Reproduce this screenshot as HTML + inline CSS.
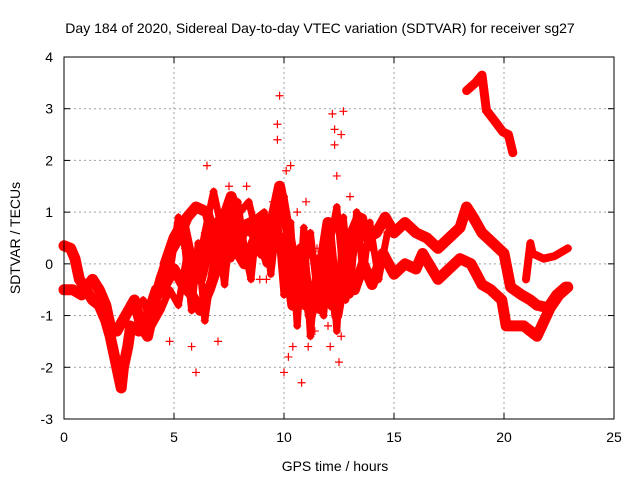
<!DOCTYPE html>
<html><head><meta charset="utf-8"><style>
body{margin:0;background:#fff}
svg text{font-family:"Liberation Sans",sans-serif;font-size:14px;fill:#000}
</style></head><body>
<svg id="c" width="640" height="480" xmlns="http://www.w3.org/2000/svg">
<rect width="640" height="480" fill="#fff"/>
<text x="320" y="33" text-anchor="middle">Day 184 of 2020, Sidereal Day-to-day VTEC variation (SDTVAR) for receiver sg27</text>
<text x="335" y="471" text-anchor="middle">GPS time / hours</text>
<text transform="translate(20,238) rotate(-90)" text-anchor="middle">SDTVAR / TECUs</text>
<g id="grid"></g><g id="marks"></g><g id="axes"></g>
</svg>
<script>
const xTicks=[0,5,10,15,20,25];
const yTicks=[-3,-2,-1,0,1,2,3,4];
const traceA=[[0,0.35],[0.3,0.3],[0.5,0.1],[0.7,-0.3],[1.0,-0.5],[1.3,-0.7],[1.6,-0.8],[1.9,-1.1],[2.1,-1.4],[2.3,-1.8],[2.5,-2.2],[2.6,-2.4],[2.7,-2.0],[2.9,-1.6],[3.0,-1.3]];
const traceB=[[0,-0.5],[0.4,-0.5],[0.8,-0.6],[1.1,-0.4],[1.3,-0.3],[1.6,-0.5],[1.9,-0.8],[2.1,-1.2],[2.4,-1.3],[2.8,-1.0],[3.2,-0.7],[3.5,-1.2],[3.8,-1.4],[4.1,-0.8],[4.4,-0.3],[4.8,0.2],[5.2,0.5],[5.6,0.9],[6.0,1.1],[6.5,1.0],[6.8,0.5],[7.2,0.8],[7.6,1.3],[8.0,0.7],[8.5,0.8],[9.0,0.5],[9.5,0.6],[10.0,0.2]];
const traceC=[[3.0,-1.2],[3.4,-1.3],[3.8,-1.0],[4.2,-0.5],[4.6,-0.4],[5.0,-0.1],[5.4,-0.4],[5.8,-0.6],[6.2,-0.9],[6.6,-0.5],[7.0,0.0],[7.4,0.4],[7.8,0.3],[8.2,0.0],[8.6,0.4],[9.0,0.8],[9.4,0.4],[9.8,0.5],[10.2,0.0]];
const traceD=[[4.6,0.0],[5.0,0.5],[5.4,0.8],[5.8,0.0],[6.2,-0.3],[6.6,0.4],[7.0,0.8],[7.4,1.0],[7.8,0.2],[8.2,0.7],[8.6,0.6],[9.0,0.2],[9.4,0.7],[9.8,1.5],[10.2,0.6],[10.6,-0.3],[11.0,-0.8],[11.4,-0.5],[11.8,0.0],[12.2,-0.8],[12.6,-0.2],[13.0,0.5],[13.4,0.9],[13.8,0.5],[14.2,0.6],[14.6,0.9],[15.0,0.6],[15.5,0.8],[16.0,0.6],[16.5,0.5],[17.0,0.3],[17.5,0.5],[18.0,0.7],[18.3,1.1],[18.6,0.9],[19.0,0.6],[19.5,0.4],[20.0,0.2],[20.3,-0.45],[20.8,-0.6],[21.2,-0.7],[21.5,-0.8],[22.0,-0.85],[22.4,-0.6],[22.8,-0.45]];
const traceE=[[10.0,0.5],[10.4,-0.8],[10.8,0.3],[11.2,-1.0],[11.6,-0.3],[12.0,0.8],[12.4,-1.0],[12.8,0.0],[13.2,-0.5],[13.6,0.0],[14.0,-0.4],[14.5,0.2],[15.0,-0.2],[15.5,0.0],[16.0,-0.1],[16.3,0.2],[17.0,-0.3],[17.5,-0.1],[18.0,0.1],[18.5,0.0],[19.0,-0.4],[19.4,-0.5],[19.9,-0.7],[20.1,-1.2],[20.5,-1.2],[20.9,-1.2],[21.5,-1.4],[22.1,-0.85],[22.5,-0.6],[22.9,-0.45]];
const traceF=[[18.3,3.35],[18.7,3.5],[19.0,3.65],[19.2,2.97],[19.6,2.75],[19.95,2.55],[20.2,2.5],[20.4,2.15]];
const traceG=[[21.0,-0.3],[21.2,0.4],[21.3,0.2],[21.8,0.1],[22.3,0.15],[22.9,0.3]];
const traceH=[[4.4,-0.6],[4.8,-0.2],[5.2,0.9],[5.5,0.3],[5.8,-0.9],[6.1,0.4],[6.4,-1.1],[6.7,-0.2],[7.0,0.5],[7.3,-0.4],[7.6,0.9],[7.9,1.2],[8.2,0.3],[8.5,-0.3],[8.8,0.9],[9.1,1.0],[9.4,-0.2],[9.7,0.9],[10.0,-0.6],[10.3,0.8],[10.6,-1.2],[10.9,0.7],[11.2,-1.4],[11.5,0.1],[11.8,-1.0],[12.1,0.5],[12.4,-1.3],[12.7,0.9],[13.0,-0.6],[13.3,1.0],[13.6,-0.2],[13.9,0.8],[14.3,-0.3],[14.7,0.6]];
const traceI=[[3.2,-0.9],[3.6,-0.7],[4.0,-1.2],[4.4,-0.9],[4.8,-0.5],[5.2,-0.8],[5.6,0.2],[6.0,-0.3],[6.4,0.6],[6.8,1.4],[7.2,0.6],[7.6,0.1],[8.0,1.0],[8.4,1.2],[8.8,0.5],[9.2,0.0],[9.6,0.9],[10.0,1.3],[10.4,0.2],[10.8,-0.4],[11.2,0.6],[11.6,-0.9],[12.0,0.2],[12.4,1.1],[12.8,-0.7],[13.2,0.3],[13.6,0.9],[14.0,0.3]];
const scatter=[[9.7,2.7],[9.8,3.25],[9.7,2.4],[10.1,1.8],[10.3,1.9],[10.2,-1.8],[10.4,-1.6],[10.0,-2.1],[10.8,-2.3],[11.1,-1.6],[11.4,-1.3],[12.1,-1.6],[12.2,2.9],[12.3,2.6],[12.3,2.3],[12.7,2.95],[12.6,2.5],[12.5,-1.9],[12.6,-1.4],[12.4,1.7],[13.0,1.3],[7.0,-1.5],[6.0,-2.1],[5.8,-1.6],[4.8,-1.5],[6.5,1.9],[7.5,1.5],[8.3,1.5],[9.5,1.2],[11.0,1.2],[9.2,-0.3],[8.9,-0.3],[10.6,1.0],[13.3,0.6],[12.0,-1.2],[11.5,0.3]];
const X=h=>64+h*22, Y=v=>57+(4-v)*51.71;
const NS="http://www.w3.org/2000/svg";
const grid=document.getElementById('grid'),marks=document.getElementById('marks'),axes=document.getElementById('axes');
function mk(t,a,p){const e=document.createElementNS(NS,t);for(const k in a)e.setAttribute(k,a[k]);p.appendChild(e);return e;}
xTicks.forEach(t=>{
 if(t>0&&t<25){const g=mk('line',{x1:X(t),x2:X(t),y1:57,y2:419,stroke:'#a0a0a0','stroke-dasharray':'2,3'},grid);
 
 }
 const l=mk('text',{x:X(t),y:442,'text-anchor':'middle'},axes);l.textContent=t;
 
 
 mk('line',{x1:X(t),x2:X(t),y1:419,y2:413,stroke:'#000'},axes);mk('line',{x1:X(t),x2:X(t),y1:57,y2:63,stroke:'#000'},axes);
});
yTicks.forEach(t=>{
 if(t>-3&&t<4){const g=mk('line',{x1:64,x2:614,y1:Y(t),y2:Y(t),stroke:'#a0a0a0','stroke-dasharray':'2,3'},grid);
 
 }
 const l=mk('text',{x:53,y:Y(t)+5,'text-anchor':'end'},axes);l.textContent=t;
 
 
 mk('line',{x1:64,x2:70,y1:Y(t),y2:Y(t),stroke:'#000'},axes);mk('line',{x1:614,x2:608,y1:Y(t),y2:Y(t),stroke:'#000'},axes);
});
const frame=mk('rect',{x:64,y:57,width:550,height:362,fill:'none',stroke:'#000'},axes);


function plus(h,v,name){
 const p=mk('path',{d:`M${X(h)-4},${Y(v)}h8M${X(h)},${Y(v)-4}v8`,stroke:'#f00','stroke-width':1.2,fill:'none'},marks);
 
 
}
const widths=[11,11,11,11,11,9,8,7,7];
[traceA,traceB,traceC,traceD,traceE,traceF,traceG,traceH,traceI].forEach((tr,i)=>{
 const pl=mk('polyline',{points:tr.map(p=>X(p[0])+','+Y(p[1])).join(' '),fill:'none',stroke:'#f00','stroke-width':widths[i],'stroke-linejoin':'round','stroke-linecap':'round'},marks);
 
 
 tr.forEach(p=>plus(p[0],p[1],'sdtvar-point'));
});
scatter.forEach(p=>plus(p[0],p[1],'sdtvar-outlier'));
</script>
</body></html>
